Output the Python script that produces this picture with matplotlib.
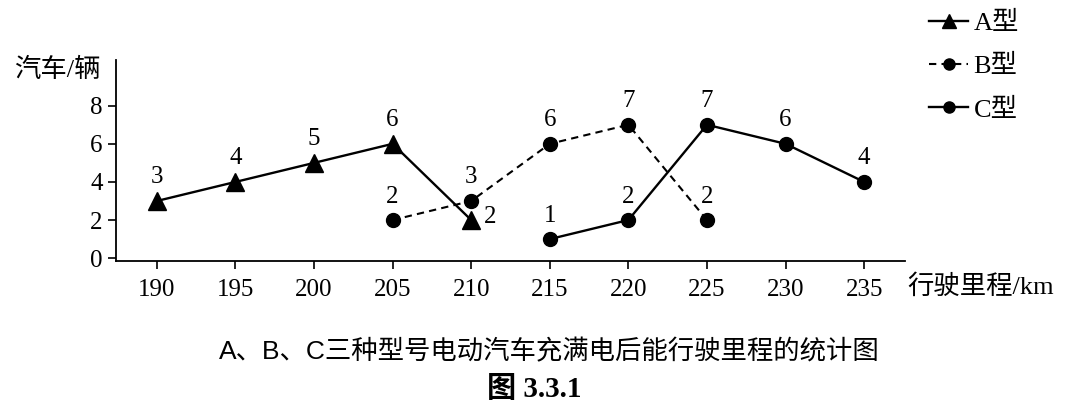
import matplotlib
matplotlib.use("Agg")
import matplotlib.pyplot as plt

# data
km = [190, 195, 200, 205, 210, 215, 220, 225, 230, 235]
a_km = [190, 195, 200, 205, 210]
a_cars = [3, 4, 5, 6, 2]
b_km = [205, 210, 215, 220, 225]
b_cars = [2, 3, 6, 7, 2]
c_km = [215, 220, 225, 230, 235]
c_cars = [1, 2, 7, 6, 4]
y_ticks = [0, 2, 4, 6, 8]

FONT = ['Liberation Serif', 'Noto Sans CJK SC']
plt.rcParams['font.family'] = FONT

fig = plt.figure(figsize=(10.65, 4.07), dpi=100)
ax = fig.add_axes([116 / 1065, 146 / 407, (905 - 116) / 1065, (261 - 60) / 407])

la, = ax.plot(a_km, a_cars, '-', color='black', lw=1.7, marker='^', ms=13, label='A型')
lb, = ax.plot(b_km, b_cars, '--', color='black', lw=1.5, marker='o', ms=10,
              dashes=(3.5, 2.5), label='B型')
lc, = ax.plot(c_km, c_cars, '-', color='black', lw=1.7, marker='o', ms=10, label='C型')

# value labels
for xs, ys in [(a_km[:-1], a_cars[:-1]), (b_km, b_cars), (c_km, c_cars)]:
    for x, y in zip(xs, ys):
        ax.annotate(str(y), (x, y), xytext=(0, 9), textcoords='offset points',
                    ha='center', va='bottom', fontsize=18)
ax.annotate(str(a_cars[-1]), (a_km[-1], a_cars[-1]), xytext=(9, 2),
            textcoords='offset points', ha='left', va='center', fontsize=18)

ax.set_xlim(187.4, 237.6)
ax.set_ylim(-0.15, 10.4)
ax.set_xticks(km)
ax.set_yticks(y_ticks)
ax.tick_params(labelsize=18, width=1.2, length=6, direction='out')
ax.tick_params(axis='x', pad=7)
ax.spines['top'].set_visible(False)
ax.spines['right'].set_visible(False)
ax.spines['left'].set_linewidth(1.3)
ax.spines['bottom'].set_linewidth(1.3)

fig.text(14 / 1065, 1 - 70 / 407, '汽车/辆', fontsize=19, va='center', ha='left')
fig.text(907 / 1065, 1 - 287 / 407, '行驶里程/km', fontsize=19, va='center', ha='left')

fig.legend(handles=[la, lb, lc], loc='upper left', bbox_to_anchor=(905 / 1065, 1.03),
           frameon=False, fontsize=19, handlelength=1.5, labelspacing=0.75,
           handletextpad=0.2, markerscale=0.8)

fig.text(549 / 1065, 1 - 352 / 407, 'A、B、C三种型号电动汽车充满电后能行驶里程的统计图',
         family=['Liberation Sans', 'Noto Sans CJK SC'], fontsize=19,
         ha='center', va='center')
fig.text(534 / 1065, 1 - 390 / 407, '图 3.3.1', fontsize=21, fontweight='bold',
         ha='center', va='center')

fig.savefig('out.png', dpi=100)
